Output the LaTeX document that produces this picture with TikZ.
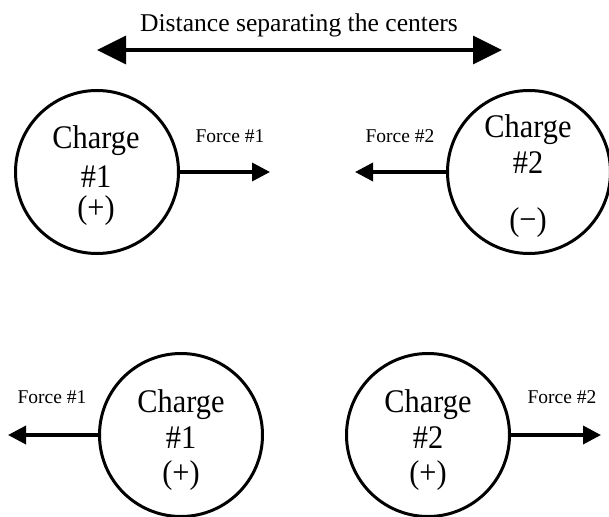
\documentclass[tikz,border=0pt]{standalone}
\usepackage{fontspec}
\setmainfont{Liberation Serif}
\newfontfamily\condfont{Liberation Serif}[FakeStretch=0.92]
\usetikzlibrary{arrows.meta}
\begin{document}
\begin{tikzpicture}[x=1pt,y=-1pt,
  charge/.style={circle,draw,line width=3pt,minimum size=163pt,inner sep=0pt},
  ctext/.style={anchor=base,inner sep=0pt,font=\condfont\fontsize{33}{33}\selectfont},
  flabel/.style={anchor=base,inner sep=0pt,font=\fontsize{19.5}{19.5}\selectfont},
  force/.style={line width=3.5pt,-{Triangle[length=18pt,width=18pt]}},
  span/.style={line width=3.5pt,{Triangle[length=29pt,width=28pt]}-{Triangle[length=29pt,width=28pt]}}]
\useasboundingbox (0,0) rectangle (609,516);
% title and separation arrow
\node[anchor=base,inner sep=0pt,font=\fontsize{25.6}{25.6}\selectfont] (title) at (299,32) {Distance separating the centers};
\coordinate (dl) at (97,50);
\coordinate (dr) at (502,50);
\draw[span] (dl) -- (dr);
% top row
\node[charge] (c1) at (97,172) {};
\node[ctext] (c1a) at (96,148) {Charge};
\node[ctext] (c1b) at (96,187) {\#1};
\node[ctext] (c1c) at (96,218) {(+)};
\coordinate (f1e) at (270,172);
\draw[force] (c1.east) -- (c1.east -| f1e);
\node[flabel] (f1l) at (230,142) {Force \#1};
\node[charge] (c2) at (529,172) {};
\node[ctext] (c2a) at (528,137) {Charge};
\node[ctext] (c2b) at (528,173) {\#2};
\node[ctext] (c2c) at (528,230) {(−)};
\coordinate (f2e) at (355,172);
\draw[force] (c2.west) -- (c2.west -| f2e);
\node[flabel] (f2l) at (400,142) {Force \#2};
% bottom row
\node[charge] (c3) at (181,435) {};
\node[ctext] (c3a) at (181,412) {Charge};
\node[ctext] (c3b) at (181,448) {\#1};
\node[ctext] (c3c) at (181,483) {(+)};
\coordinate (f3e) at (8,435);
\draw[force] (c3.west) -- (c3.west -| f3e);
\node[flabel] (f3l) at (52,403) {Force \#1};
\node[charge] (c4) at (428,435) {};
\node[ctext] (c4a) at (428,412) {Charge};
\node[ctext] (c4b) at (428,448) {\#2};
\node[ctext] (c4c) at (428,483) {(+)};
\coordinate (f4e) at (601,435);
\draw[force] (c4.east) -- (c4.east -| f4e);
\node[flabel] (f4l) at (562,403) {Force \#2};
\end{tikzpicture}
\end{document}
